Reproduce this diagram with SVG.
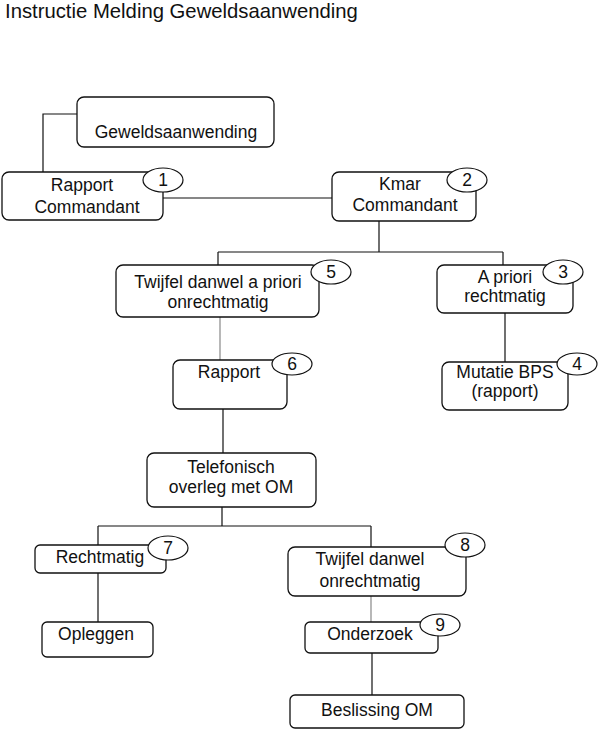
<svg xmlns="http://www.w3.org/2000/svg" width="599" height="730" viewBox="0 0 599 730">
<style>
.box{fill:#fff;stroke:#111;stroke-width:1.3}
.num{fill:#fff;stroke:#111;stroke-width:1.2}
text{font-family:"Liberation Sans",Arial,sans-serif;font-size:17.5px;fill:#111;text-anchor:middle}
.title{font-size:20.3px;text-anchor:start}
.c{fill:none;stroke:#111;stroke-width:1.2}
.g{stroke:#888}
</style>
<rect width="599" height="730" fill="#fff"/>
<text class="title" x="5" y="18">Instructie Melding Geweldsaanwending</text>
<g id="connectors">
<path class="c" d="M77,114 H43 V172"/>
<path class="c" d="M163,198 H332"/>
<path class="c" d="M379,221 V252 M218,252 H503 M218,252 V265 M503,252 V265"/>
<path class="c g" d="M220,317 V360"/>
<path class="c" d="M505,313 V362"/>
<path class="c" d="M223,409 V453"/>
<path class="c" d="M222,507 V526 M98,526 H371 M98,526 V545 M371,526 V547"/>
<path class="c" d="M98,573 V622"/>
<path class="c g" d="M371,596 V622"/>
<path class="c" d="M372,653 V695"/>
</g>
<g id="geweld">
<rect class="box" x="77" y="97" width="197" height="50" rx="7"/>
<text x="176" y="138">Geweldsaanwending</text>
</g>
<g id="rapportcmd">
<rect class="box" x="2" y="172" width="161" height="48" rx="7"/>
<text x="82" y="191">Rapport</text>
<text x="87" y="213">Commandant</text>
<ellipse class="num" cx="163" cy="180" rx="20" ry="12"/>
<text x="163" y="186">1</text>
</g>
<g id="kmar">
<rect class="box" x="332" y="172" width="144" height="49" rx="7"/>
<text x="400" y="190">Kmar</text>
<text x="405" y="211">Commandant</text>
<ellipse class="num" cx="467" cy="180" rx="20" ry="12"/>
<text x="467" y="186">2</text>
</g>
<g id="twijfel1">
<rect class="box" x="116" y="265" width="203" height="52" rx="7"/>
<text x="218" y="288">Twijfel danwel a priori</text>
<text x="218" y="308">onrechtmatig</text>
<ellipse class="num" cx="331" cy="272" rx="20" ry="12"/>
<text x="331" y="278">5</text>
</g>
<g id="apriori">
<rect class="box" x="437" y="265" width="136" height="48" rx="7"/>
<text x="505" y="283">A priori</text>
<text x="505" y="302">rechtmatig</text>
<ellipse class="num" cx="563" cy="272" rx="20" ry="12"/>
<text x="563" y="278">3</text>
</g>
<g id="rapport">
<rect class="box" x="173" y="360" width="114" height="49" rx="7"/>
<text x="229" y="378">Rapport</text>
<ellipse class="num" cx="292" cy="364" rx="20" ry="11"/>
<text x="292" y="370">6</text>
</g>
<g id="mutatie">
<rect class="box" x="442" y="362" width="126" height="48" rx="7"/>
<text x="505" y="378">Mutatie BPS</text>
<text x="505" y="397">(rapport)</text>
<ellipse class="num" cx="577" cy="364" rx="20" ry="11"/>
<text x="577" y="370">4</text>
</g>
<g id="telefonisch">
<rect class="box" x="147" y="453" width="169" height="54" rx="7"/>
<text x="231" y="473">Telefonisch</text>
<text x="231" y="493">overleg met OM</text>
</g>
<g id="rechtmatig">
<rect class="box" x="35" y="545" width="131" height="28" rx="5"/>
<text x="100" y="563">Rechtmatig</text>
<ellipse class="num" cx="168" cy="548" rx="20" ry="12"/>
<text x="168" y="554">7</text>
</g>
<g id="twijfel2">
<rect class="box" x="288" y="547" width="178" height="49" rx="7"/>
<text x="370" y="565">Twijfel danwel</text>
<text x="370" y="587">onrechtmatig</text>
<ellipse class="num" cx="465" cy="545" rx="20" ry="12"/>
<text x="465" y="551">8</text>
</g>
<g id="opleggen">
<rect class="box" x="42" y="622" width="111" height="35" rx="5"/>
<text x="96" y="640">Opleggen</text>
</g>
<g id="onderzoek">
<rect class="box" x="305" y="622" width="133" height="31" rx="5"/>
<text x="370" y="640">Onderzoek</text>
<ellipse class="num" cx="440" cy="625" rx="20" ry="11"/>
<text x="440" y="631">9</text>
</g>
<g id="beslissing">
<rect class="box" x="290" y="695" width="174" height="33" rx="5"/>
<text x="377" y="716">Beslissing OM</text>
</g>
</svg>
